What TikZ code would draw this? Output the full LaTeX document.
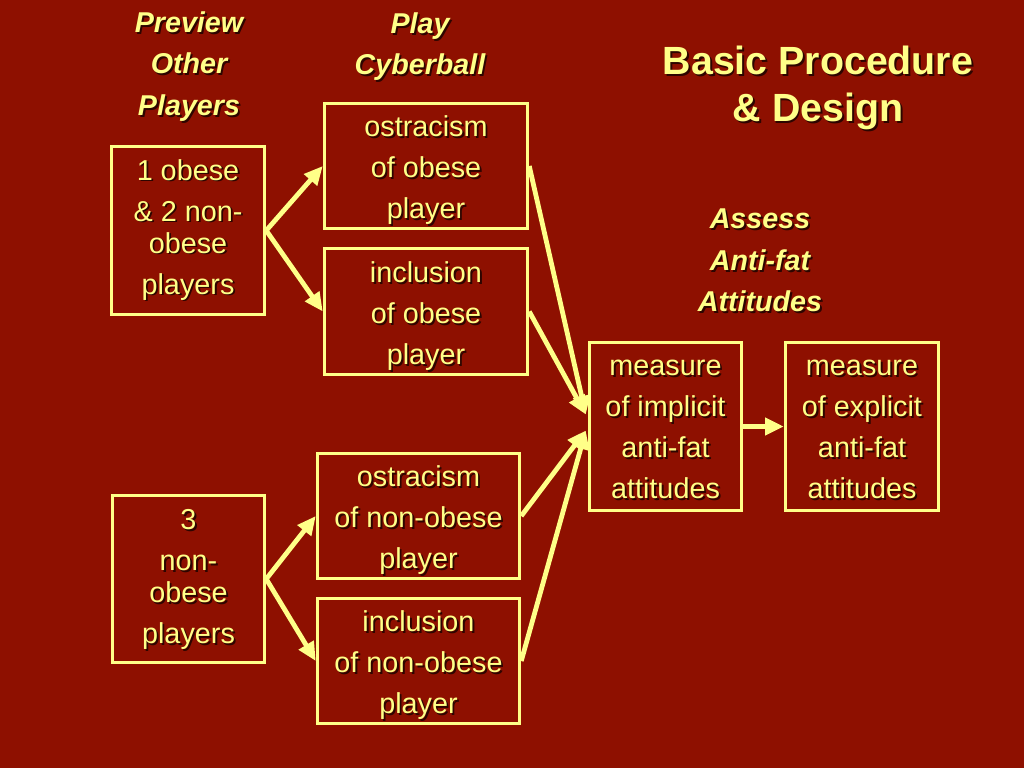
\documentclass[tikz,border=0pt]{standalone}
\usepackage{fontspec}
\setmainfont{Liberation Sans}
\usetikzlibrary{arrows.meta,calc}
\definecolor{bg}{RGB}{142,16,0}
\definecolor{yel}{RGB}{255,255,136}
\definecolor{shc}{RGB}{45,5,0}
\newcommand{\sh}[1]{\makebox[0pt][l]{\raisebox{-1.4pt}{\kern1.4pt\textcolor{shc}{#1}}}#1}
\newcommand{\tp}[1]{\rule{0pt}{#1pt}}
\newcommand{\boxfont}{\fontsize{21.6}{24}\selectfont}
\newcommand{\hdrfont}{\fontsize{21.5}{31}\selectfont\bfseries\itshape}
\newcommand{\ttlfont}{\fontsize{29.5}{35}\selectfont\bfseries}
\begin{document}
\begin{tikzpicture}[x=0.75pt,y=-0.75pt,
  box/.style={draw=yel, line width=2.6pt, align=center, text=yel, font=\boxfont, inner sep=0pt},
  sz/.style 2 args={minimum width=#1*0.75pt, minimum height=#2*0.75pt},
  hdr/.style={text=yel, font=\hdrfont, align=center, inner sep=0pt},
  ttl/.style={text=yel, font=\ttlfont, align=center, inner sep=0pt},
  conn/.style={draw=yel, line width=3.6pt, -{Triangle[length=14pt,width=12.5pt]}}]
\fill[bg] (0,0) rectangle (1024,768);
\useasboundingbox (0,0) rectangle (1024,768);

% headers
\node[hdr] (h1) at (189,67.5) {\sh{Preview}\\\sh{Other}\\\sh{Players}};
\node[hdr] (h2) at (420,47.5) {\sh{Play}\\\sh{Cyberball}};
\node[ttl] (title) at (818,89) {\sh{Basic Procedure}\\\sh{\& Design}};
\node[hdr] (h3) at (760,261.5) {\sh{Assess}\\\sh{Anti-fat}\\\sh{Attitudes}};

% boxes
\node[box, sz={153}{168}] (A) at (188,230.5) {\sh{1 obese}\\[6.75pt]\sh{\& 2 non-}\\\sh{obese}\\[6.75pt]\sh{players}};
\node[box, sz={203}{125}] (B) at (426,166) {\tp{23.5}\sh{ostracism}\\[6.75pt]\sh{of obese}\\[6.75pt]\sh{player}};
\node[box, sz={203}{126}] (C) at (426,311.5) {\tp{23.5}\sh{inclusion}\\[6.75pt]\sh{of obese}\\[6.75pt]\sh{player}};
\node[box, sz={152}{167}] (D) at (188.5,579) {\tp{17.25}\sh{3}\\[6.75pt]\sh{non-}\\\sh{obese}\\[6.75pt]\sh{players}};
\node[box, sz={202}{125}] (E) at (418.5,516) {\tp{23.5}\sh{ostracism}\\[6.75pt]\sh{of non-obese}\\[6.75pt]\sh{player}};
\node[box, sz={202}{125}] (F) at (418.5,661) {\tp{23.5}\sh{inclusion}\\[6.75pt]\sh{of non-obese}\\[6.75pt]\sh{player}};
\node[box, sz={152}{168}] (G) at (665.5,426.5) {\tp{17.25}\sh{measure}\\[6.75pt]\sh{of implicit}\\[6.75pt]\sh{anti-fat}\\[6.75pt]\sh{attitudes}};
\node[box, sz={153}{168}] (H) at (862,426.5) {\tp{17.25}\sh{measure}\\[6.75pt]\sh{of explicit}\\[6.75pt]\sh{anti-fat}\\[6.75pt]\sh{attitudes}};

\coordinate (Gt) at ($(G.west)+(-2,-12)$);
\coordinate (Gb) at ($(G.west)+(-2,4)$);

% connectors
\draw[conn] (A.east) -- (B.west);
\draw[conn] (A.east) -- (C.west);
\draw[conn] (D.east) -- (E.west);
\draw[conn] (D.east) -- (F.west);
\draw[conn] (B.east) -- (Gt);
\draw[conn] (C.east) -- (Gt);
\draw[conn] (E.east) -- (Gb);
\draw[conn] (F.east) -- (Gb);
\draw[conn] (G.east) -- (H.west);
\end{tikzpicture}
\end{document}
